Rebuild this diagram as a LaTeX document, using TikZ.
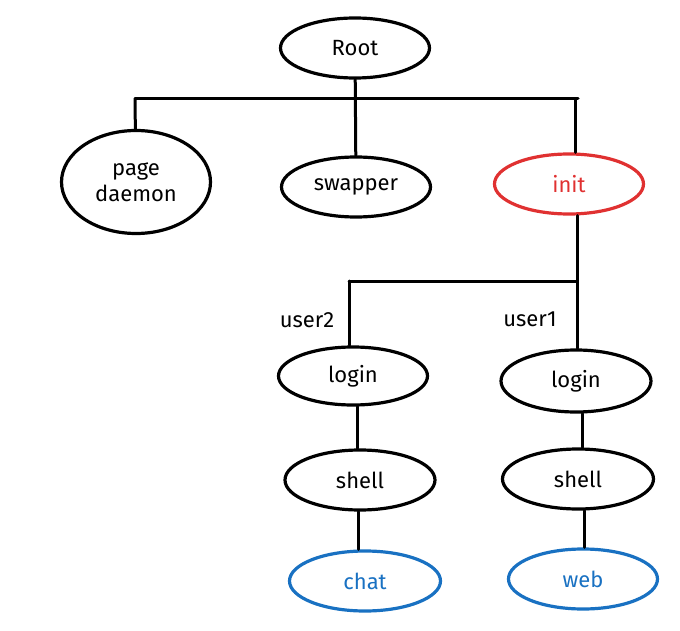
\documentclass[tikz,border=0pt]{standalone}
\usepackage{fontspec}
\setmainfont{Fira Sans}
\usetikzlibrary{shapes.geometric}
\definecolor{myred}{HTML}{E03131}
\definecolor{myblue}{HTML}{1971C2}
\tikzset{
  proc/.style={ellipse, draw=black, line width=3.2pt, inner sep=0pt, minimum width=149pt, minimum height=60pt, font=\fontsize{22}{24}\selectfont, text=black},
  redproc/.style={proc, draw=myred, text=myred},
  blueproc/.style={proc, draw=myblue, text=myblue},
  conn/.style={line width=3pt, line cap=round},
  lbl/.style={font=\fontsize{22}{24}\selectfont, inner sep=0pt}
}
\begin{document}
\begin{tikzpicture}[x=1pt,y=-1pt]
\useasboundingbox (0,0) rectangle (680,631);
\node[proc] (root) at (355,48) {Root};
\node[proc, minimum height=103pt, align=center, font=\fontsize{22}{26}\selectfont] (pd) at (136,182) {page\\daemon};
\node[proc] (swapper) at (356,187) {swapper};
\node[redproc] (init) at (569,184) {init};
\node[proc, minimum height=58pt] (loginL) at (353,376) {login};
\node[proc, minimum width=150pt, minimum height=62pt] (loginR) at (576,381) {login};
\node[proc, minimum width=150pt] (shellL) at (360,480) {shell};
\node[proc, minimum width=151pt] (shellR) at (578,479) {shell};
\node[blueproc, minimum width=151pt] (chat) at (365,581) {chat};
\node[blueproc] (web) at (583,579) {web};
\node[lbl] (u2) at (307,320) {user2};
\node[lbl] (u1) at (530,319) {user1};
% top bar
\coordinate (b1) at (135,99);
\coordinate (b3) at (578,99);
\coordinate (b3d) at (575,99);
\draw[conn] (b1) -- (b3);
\draw[conn] (root) -- (swapper);
\draw[conn] (b1) -- (pd);
\draw[conn] (b3d) -- (b3d |- init.north);
% second bar
\coordinate (j) at (577,281);
\coordinate (jl) at (349,281);
\draw[conn] (j |- init.south) -- (j);
\draw[conn] (j) -- (jl);
\draw[conn] (jl) -- (jl |- loginL.north);
\draw[conn] (j) -- (j |- loginR.north);
% chains
\coordinate (cl) at (357,0);
\coordinate (cr) at (582,0);
\draw[conn] (cl |- loginL.south) -- (cl |- shellL.north);
\draw[conn] (cr |- loginR.south) -- (cr |- shellR.north);
\coordinate (dl) at (358,0);
\coordinate (dr) at (584,0);
\draw[conn] (dl |- shellL.south) -- (dl |- chat.north);
\draw[conn] (dr |- shellR.south) -- (dr |- web.north);
\end{tikzpicture}
\end{document}
